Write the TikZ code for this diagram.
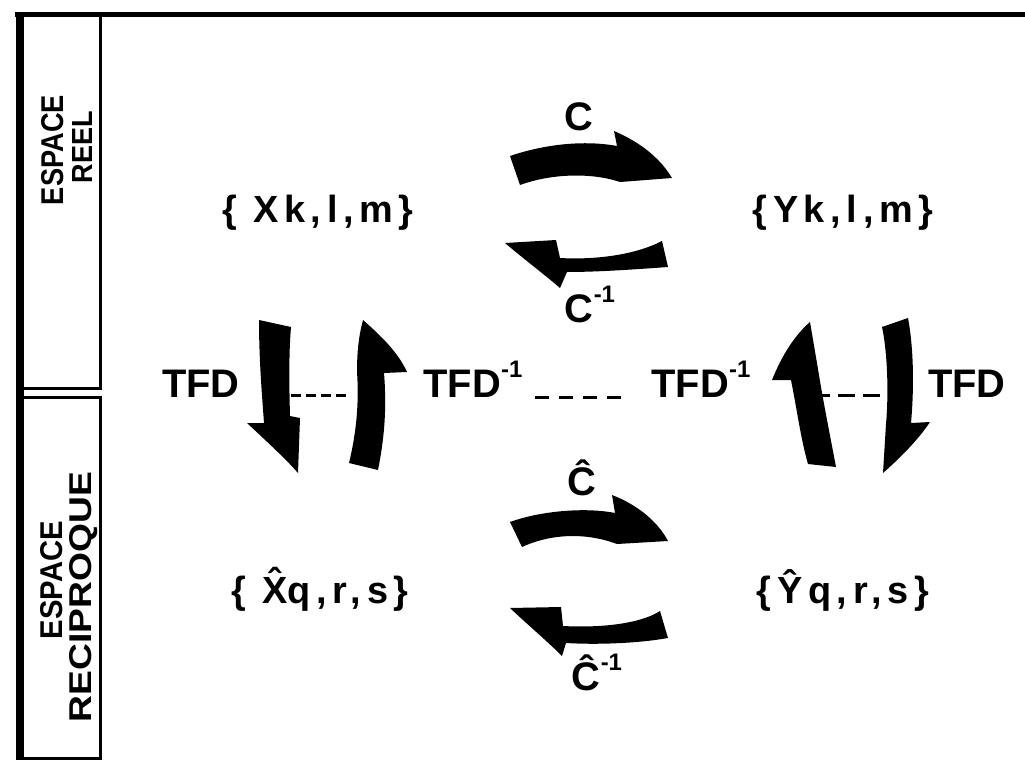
\documentclass[tikz,border=0pt]{standalone}
\usepackage{fontspec}
\setmainfont{Liberation Sans}
\newfontfamily\setfam{Liberation Sans}[LetterSpace=15]
\newcommand\setfont{\setfam\bfseries\fontsize{38}{40}\selectfont}
\newcommand\opfont{\bfseries\fontsize{40}{42}\selectfont}
\newcommand\supm{\raisebox{0.48em}{\fontsize{24}{26}\selectfont\bfseries -1}}
\newcommand\hatX{\ooalign{X\cr\hidewidth\raisebox{0.2em}{ˆ}\hidewidth\cr}}
\tikzset{
  setlabel/.style={font=\setfont, anchor=base, inner sep=0pt},
  oplabel/.style={font=\opfont, anchor=base, inner sep=0pt},
  sidelabel/.style={rotate=90, anchor=center, inner sep=0pt, font=\bfseries},
  bigarrow/.style={fill=black},
  panelline/.style={line width=3bp},
  thickline/.style={line width=8bp},
  dashline/.style={line width=3bp},
}
\begin{document}
\begin{tikzpicture}[x=1bp,y=-1bp]
\path[use as bounding box] (0,0) rectangle (1025,764);
% frame and side panel
\draw[line width=5bp] (15,15) -- (1025,15);
\draw[panelline] (20,15) rectangle (100,388);
\draw[panelline] (20,397) rectangle (100,758);
\draw[thickline] (20,13) -- (20,760);
% side labels
\node[sidelabel] (es1) at (53,150) {\resizebox{110bp}{22bp}{ESPACE}};
\node[sidelabel] (re1) at (82,147) {\resizebox{72bp}{20bp}{REEL}};
\node[sidelabel] (es2) at (52,580) {\resizebox{118bp}{22bp}{ESPACE}};
\node[sidelabel] (re2) at (84,597) {\resizebox{250bp}{22bp}{RECIPROQUE}};
% sets
\node[setlabel] (X) at (318,222) {\{ Xk,l,m\}};
\node[setlabel] (Y) at (843,222) {\{Yk,l,m\}};
\node[setlabel] (Xh) at (320,603) {\{ \hatX q,r,s\}};
\node[setlabel] (Yh) at (843,603) {\{Ŷq,r,s\}};
% operator labels
\node[oplabel] (C) at (579,130) {C};
\node[oplabel] (Ci) at (590,322) {C\supm};
\node[oplabel] (Ch) at (582,495) {Ĉ};
\node[oplabel] (Chi) at (597,690) {Ĉ\supm};
\node[oplabel] (T1) at (201,397) {TFD};
\node[oplabel] (T2) at (473,397) {TFD\supm};
\node[oplabel] (T3) at (701,397) {TFD\supm};
\node[oplabel] (T4) at (967,397) {TFD};
% dashes
\coordinate (d1a) at (291,395); \coordinate (d1b) at (347,395);
\coordinate (d2a) at (535,397); \coordinate (d2b) at (622,397);
\coordinate (d3a) at (813,395); \coordinate (d3b) at (880,395);
\draw[dashline, dash pattern=on 10bp off 5bp] (d1a) -- (d1b);
\draw[dashline, dash pattern=on 14bp off 10bp] (d2a) -- (d2b);
\draw[dashline, dash pattern=on 17bp off 8bp] (d3a) -- (d3b);
% C arrow (top, to the right)
\fill[bigarrow] (510,156) .. controls (545,144) and (585,140) .. (617,146)
  -- (614,131) .. controls (640,142) and (660,158) .. (672,178)
  -- (620,182) .. controls (590,172) and (550,174) .. (520,185) -- cycle;
% C^-1 arrow (to the left)
\fill[bigarrow] (662,241) .. controls (635,255) and (595,260) .. (560,258)
  -- (556,240) -- (505,243) .. controls (525,260) and (545,275) .. (560,288)
  -- (567,272) .. controls (600,272) and (640,269) .. (668,267) -- cycle;
% C hat arrow
\fill[bigarrow] (510,522) .. controls (540,511) and (585,507) .. (615,513)
  -- (612,495) .. controls (638,505) and (658,522) .. (668,541)
  -- (617,544) .. controls (585,532) and (550,534) .. (522,547) -- cycle;
% C hat ^-1 arrow
\fill[bigarrow] (660,611) .. controls (640,624) and (600,628) .. (563,626)
  -- (561,607) -- (510,608) .. controls (528,625) and (548,642) .. (562,656)
  -- (566,643) .. controls (600,645) and (640,643) .. (668,638) -- cycle;
% left pair: down (TFD)
\fill[bigarrow] (259,320) .. controls (259,360) and (262,395) .. (264,423)
  -- (247,423) .. controls (265,440) and (285,458) .. (298,473)
  -- (300,418) -- (290,416) .. controls (289,380) and (289,350) .. (291,327) -- cycle;
% left pair: up (TFD^-1)
\fill[bigarrow] (349,463) .. controls (357,430) and (359,400) .. (357,372)
  .. controls (357,350) and (359,335) .. (363,320)
  .. controls (380,335) and (398,352) .. (407,372)
  -- (384,373) .. controls (387,410) and (384,440) .. (378,470) -- cycle;
% right pair: up (TFD^-1)
\fill[bigarrow] (808,464) .. controls (801,440) and (797,410) .. (791,380)
  -- (772,380) .. controls (782,355) and (795,335) .. (810,322)
  -- (819,375) .. controls (823,400) and (829,430) .. (836,467) -- cycle;
% right pair: down (TFD)
\fill[bigarrow] (882,327) .. controls (887,350) and (889,390) .. (886,424)
  -- (883,473) .. controls (900,458) and (918,440) .. (930,422)
  -- (911,423) .. controls (914,390) and (914,350) .. (908,318) -- cycle;
\end{tikzpicture}
\end{document}
